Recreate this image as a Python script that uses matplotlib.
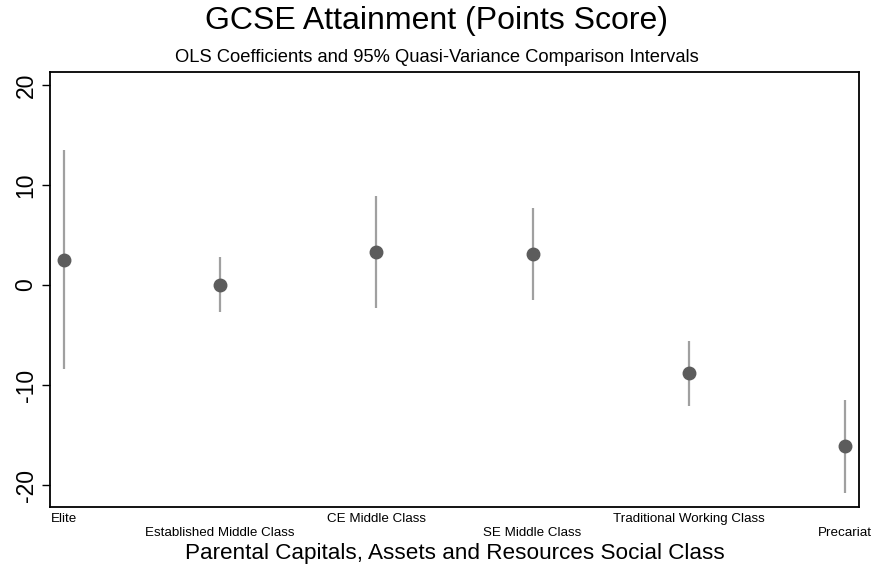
import matplotlib.pyplot as plt
import numpy as np

plt.rcParams['font.family'] = ['Liberation Sans', 'DejaVu Sans']

# data
classes = ["Elite", "Established Middle Class", "CE Middle Class",
           "SE Middle Class", "Traditional Working Class", "Precariat"]
coef = [2.5, 0.0, 3.3, 3.1, -8.8, -16.1]
lower = [-8.4, -2.7, -2.3, -1.5, -12.1, -20.8]
upper = [13.5, 2.8, 8.9, 7.7, -5.6, -11.5]
yticks = [-20, -10, 0, 10, 20]

x = np.arange(1, len(classes) + 1)

fig = plt.figure(figsize=(8.73, 5.65), dpi=100)
ax = fig.add_axes([50/873, 1-507/565, 809/873, 435/565])

# intervals then points
ax.vlines(x, lower, upper, color='#a0a0a0', linewidth=1.6, zorder=2)
ax.plot(x, coef, 'o', color='#5c5c5c', markersize=9, zorder=3)

ax.set_xlim(0.91, 6.09)
ax.set_ylim(-22.2, 21.3)
ax.set_yticks(yticks)
ax.set_yticklabels([str(v) for v in yticks], rotation=90, va='center', fontsize=16.5)
ax.tick_params(axis='y', length=6, width=1, pad=3)

ax.set_xticks(x)
ax.set_xticklabels(classes, fontsize=9.6)
ax.tick_params(axis='x', length=0)
for i, t in enumerate(ax.xaxis.get_major_ticks()):
    t.set_pad(4 if i % 2 == 0 else 14.5)

for s in ax.spines.values():
    s.set_linewidth(1.3)

fig.text(0.5, 0.962, "GCSE Attainment (Points Score)", ha='center', va='center', fontsize=23)
fig.text(0.5, 0.899, "OLS Coefficients and 95% Quasi-Variance Comparison Intervals",
         ha='center', va='center', fontsize=13.2)
fig.text(455/873, 1-553/565, "Parental Capitals, Assets and Resources Social Class",
         ha='center', va='center', fontsize=16.2)

fig.savefig("out.png", dpi=100)
